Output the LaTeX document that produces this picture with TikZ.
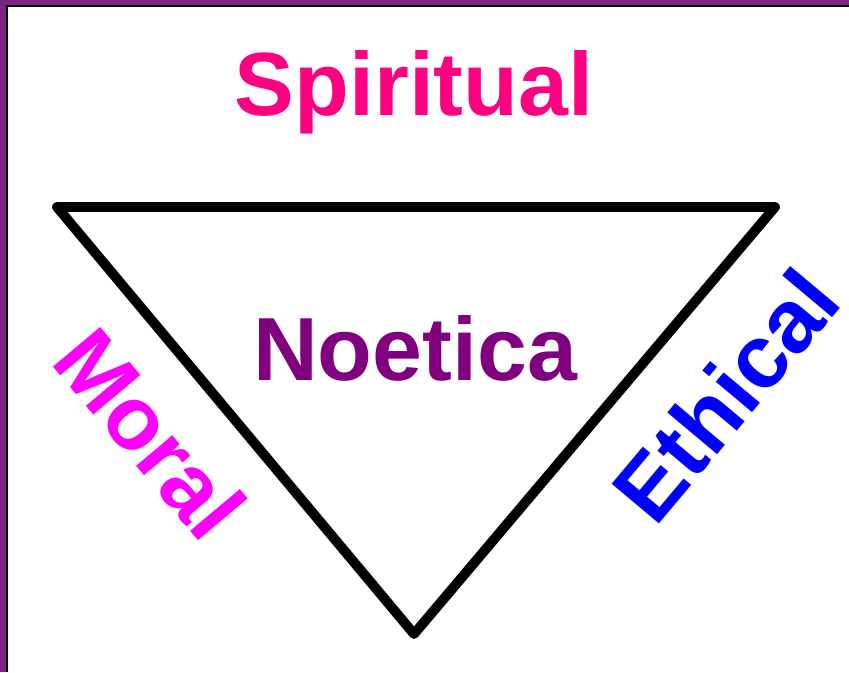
\documentclass[tikz,border=0pt]{standalone}
\usepackage{fontspec}
\setmainfont{Liberation Sans}
\usepackage{tikz}
\usetikzlibrary{positioning}
\definecolor{frame}{RGB}{123,36,128}
\definecolor{spirit}{RGB}{255,0,128}
\definecolor{noet}{RGB}{128,0,128}
\definecolor{moralc}{RGB}{255,0,255}
\definecolor{ethic}{RGB}{0,0,255}
\tikzset{word/.style={font=\bfseries\fontsize{25.5}{30}\selectfont, inner sep=0pt, anchor=base}}

\begin{document}
\begin{tikzpicture}[x=0.01cm, y=-0.01cm]
    \fill[frame] (0,0) rectangle (849,672);
    \fill[black] (6,5) rectangle (849,672);
    \fill[white] (8,7) rectangle (849,672);
    \useasboundingbox (0,0) rectangle (849,672);

        \coordinate (tl) at (57,207);
        \coordinate (tr) at (775,207);
        \coordinate (bt) at (414,634);
        \draw[line width=2.8pt, line join=round, line cap=round] (tl) -- (tr) -- (bt) -- cycle;

        \node[word, text=spirit] (spiritual) at (414,115) {Spiritual};
        \node[word, text=noet] (noetica) at (415,380) {Noetica};
        \node[word, text=moralc, rotate=-50] (moral) at (126,454) {Moral};
        \node[word, text=ethic, rotate=50] (ethical) at (750,416) {Ethical};
    \end{tikzpicture}
\end{document}
